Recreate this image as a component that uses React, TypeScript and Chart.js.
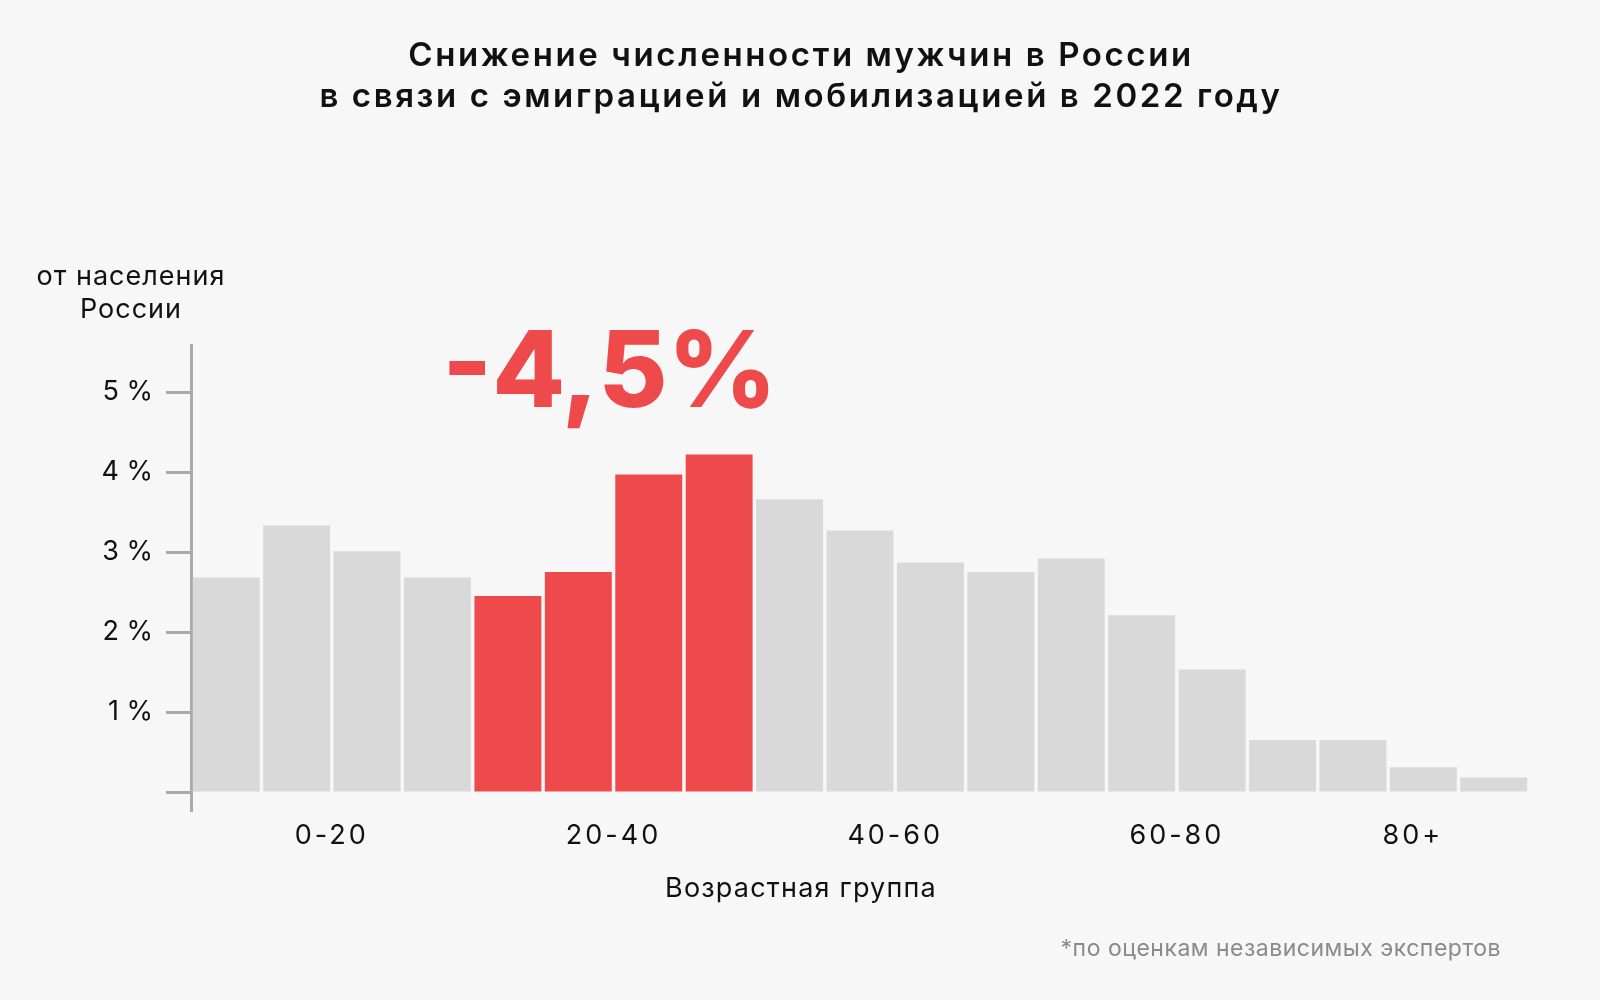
import React, { useEffect, useRef } from "react";
import { Chart, registerables } from "chart.js";

Chart.register(...registerables);

// ---- data ----
const ageGroups = [
  "0-4", "5-9", "10-14", "15-19", "20-24", "25-29", "30-34", "35-39",
  "40-44", "45-49", "50-54", "55-59", "60-64", "65-69", "70-74", "75-79",
  "80-84", "85-89", "90+",
];
const sharePercent = [
  2.68, 3.33, 3.01, 2.68, 2.45, 2.75, 3.97, 4.22,
  3.66, 3.27, 2.87, 2.75, 2.92, 2.21, 1.53, 0.65,
  0.65, 0.31, 0.18,
];
const highlightedGroups = ["20-24", "25-29", "30-34", "35-39"];
const yTickValues = [0, 1, 2, 3, 4, 5];
const xTickLabels = ["0-20", "20-40", "40-60", "60-80", "80+"];
const xTickPositions = [1.5, 5.5, 9.5, 13.5, 16.85];
const titleLines = [
  "Снижение численности мужчин в России",
  "в связи с эмиграцией и мобилизацией в 2022 году",
];
const yAxisTitleLines = ["от населения", "России"];
const xAxisTitle = "Возрастная группа";
const headlineValue = "-4,5%";
const headlineGroupCenter = 5.5;
const footnote = "*по оценкам независимых экспертов";

// ---- styles ----
const FONT = "Inter, 'Noto Sans', sans-serif";
const BG = "#f7f7f7";
const GRAY_BAR = "#d9d9d9";
const RED = "#ef4a4b";
const AXIS = "#aaaaaa";
const TEXT = "#111111";

const textPlugin = {
  id: "annotTexts",
  afterDraw(chart: any) {
    const ctx = chart.ctx;
    ctx.save();
    ctx.fillStyle = TEXT;
    ctx.textAlign = "center";
    ctx.textBaseline = "alphabetic";
    // title
    ctx.font = `600 33px ${FONT}`;
    ctx.letterSpacing = "2.6px";
    ctx.fillText(titleLines[0], 801, 66);
    ctx.fillText(titleLines[1], 801, 107);
    // y axis title
    ctx.font = `400 27px ${FONT}`;
    ctx.letterSpacing = "1px";
    ctx.fillText(yAxisTitleLines[0], 131, 285);
    ctx.fillText(yAxisTitleLines[1], 131, 318);
    // x axis title
    ctx.letterSpacing = "1.2px";
    ctx.fillText(xAxisTitle, 801, 897);
    // headline number over the highlighted group
    const xs = chart.scales.xl;
    ctx.fillStyle = RED;
    ctx.letterSpacing = "0px";
    ctx.font = `800 106px ${FONT}`;
    ctx.fillText(headlineValue, xs.getPixelForValue(headlineGroupCenter) - 4, 407);
    // footnote
    ctx.fillStyle = "#8a8a8a";
    ctx.textAlign = "right";
    ctx.font = `400 23px ${FONT}`;
    ctx.letterSpacing = "0.5px";
    ctx.fillText(footnote, 1501, 956);
    ctx.restore();
  },
};

export default function App() {
  const ref = useRef<HTMLCanvasElement | null>(null);

  useEffect(() => {
    if (!ref.current) return;
    const colors = ageGroups.map((g) =>
      highlightedGroups.includes(g) ? RED : GRAY_BAR
    );
    const chart = new Chart(ref.current, {
      type: "bar",
      data: {
        labels: ageGroups,
        datasets: [
          {
            data: sharePercent,
            backgroundColor: colors,
            borderWidth: 0,
            barPercentage: 0.95,
            categoryPercentage: 1,
          },
        ],
      },
      options: {
        responsive: false,
        animation: false,
        layout: { padding: { top: 345, right: 71, bottom: 0, left: 0 } },
        plugins: {
          legend: { display: false },
          tooltip: { enabled: false },
          title: { display: false },
        },
        scales: {
          x: {
            type: "category",
            display: false,
            offset: true,
          },
          xl: {
            type: "linear",
            position: "bottom",
            min: -0.5,
            max: 18.5,
            offset: false,
            grid: { display: false, offset: false },
            border: { display: false },
            afterBuildTicks: (axis: any) => {
              axis.ticks = xTickPositions.map((v) => ({ value: v }));
            },
            afterFit: (axis: any) => {
              axis.height = 189;
            },
            afterUpdate: (axis: any) => {
              if (axis._lsWrapped) return;
              const orig = axis.drawLabels;
              axis.drawLabels = function (area: any) {
                const c = this.ctx;
                c.save();
                c.letterSpacing = "3px";
                orig.call(this, area);
                c.restore();
              };
              axis._lsWrapped = true;
            },
            ticks: {
              autoSkip: false,
              maxRotation: 0,
              padding: 1,
              color: TEXT,
              font: { family: FONT, size: 27 },
              callback: (_v: any, i: number) => xTickLabels[i],
            },
          },
          y: {
            type: "linear",
            min: -0.2375,
            max: 5.5875,
            afterBuildTicks: (axis: any) => {
              axis.ticks = yTickValues.map((v) => ({ value: v }));
            },
            afterFit: (axis: any) => {
              axis.width = 191;
            },
            grid: {
              display: true,
              drawOnChartArea: false,
              drawTicks: true,
              tickLength: 25,
              tickWidth: 3,
              tickColor: AXIS,
            },
            border: { display: true, color: AXIS, width: 3 },
            ticks: {
              padding: 13,
              color: TEXT,
              font: { family: FONT, size: 27 },
              callback: (v: any) => (v === 0 ? "" : `${v} %`),
            },
          },
        },
      },
      plugins: [textPlugin],
    });
    return () => chart.destroy();
  }, []);

  return (
    <div
      style={{
        position: "absolute",
        left: 0,
        top: 0,
        width: 1600,
        height: 1000,
        background: BG,
      }}
    >
      <canvas ref={ref} width={1600} height={1000} />
    </div>
  );
}
